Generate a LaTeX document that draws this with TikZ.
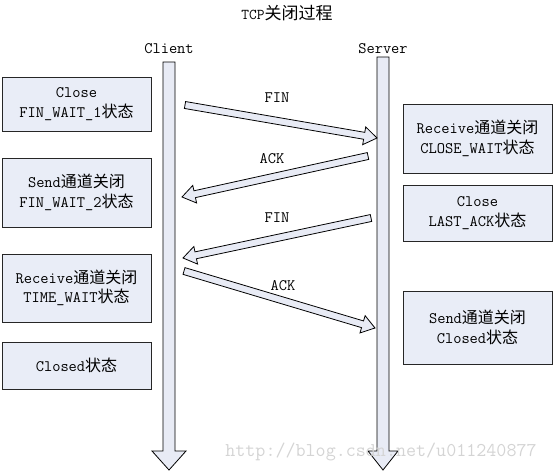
\documentclass[tikz,border=0pt]{standalone}
\usepackage{fontspec}
\newfontfamily\cjk{Noto Sans CJK SC}
\usetikzlibrary{calc,positioning}
\definecolor{arrowfill}{RGB}{232,235,245}
\definecolor{boxfill}{RGB}{233,237,247}
\definecolor{markgray}{RGB}{212,212,212}
\newcommand{\zh}[1]{{\cjk #1}}
% hollow block arrow: from, to, shaft half width, head half width, head length
\newcommand{\blockarrow}[5]{%
  \coordinate (ba-h) at ($(#2)!#5!(#1)$);
  \draw[blockline] ($(#1)!#3!90:(#2)$) -- ($(ba-h)!#3!90:(#2)$) -- ($(ba-h)!#4!90:(#2)$) -- (#2)
    -- ($(ba-h)!#4!-90:(#2)$) -- ($(ba-h)!#3!-90:(#2)$) -- ($(#1)!#3!-90:(#2)$) -- cycle;
}
\begin{document}
\begin{tikzpicture}[x=1pt, y=-1pt,
    statebox/.style={rectangle, draw=black!85, fill=boxfill, line width=0.8pt, minimum width=149pt, inner sep=0pt, align=center, font=\ttfamily\fontsize{16}{19.5}\selectfont},
    msglabel/.style={font=\ttfamily\fontsize{16}{18}\selectfont, inner sep=0pt},
    blockline/.style={draw=black, fill=arrowfill, line width=0.8pt, line join=miter}]
    \useasboundingbox (0,0) rectangle (554,472);

    % Title
    \node[font=\ttfamily\fontsize{15}{18}\selectfont] (title) at (287,13) {TCP{\fontsize{17}{18}\selectfont\zh{关闭过程}}};

    % Lifelines
    \node[msglabel] (client) at (169,49) {Client};
    \node[msglabel] (server) at (383,49) {Server};
    \coordinate (client-top) at (169,62);
    \coordinate (client-end) at (169,470);
    \coordinate (server-top) at (383,57);
    \coordinate (server-end) at (383,470);
    \blockarrow{client-top}{client-end}{6pt}{17pt}{19pt}
    \blockarrow{server-top}{server-end}{6pt}{15pt}{19pt}

    % Client states
    \node[statebox, minimum height=54pt] (fin-wait-1) at (76.5,104) {Close\\FIN\_WAIT\_1\zh{状态}};
    \node[statebox, minimum height=69pt] (fin-wait-2) at (76.5,192.5) {Send\zh{通道关闭}\\FIN\_WAIT\_2\zh{状态}};
    \node[statebox, minimum height=68pt] (time-wait) at (76.5,288) {Receive\zh{通道关闭}\\TIME\_WAIT\zh{状态}};
    \node[statebox, minimum height=47pt] (client-closed) at (76.5,365.5) {Closed\zh{状态}};

    % Server states
    \node[statebox, minimum height=69pt] (close-wait) at (477.5,138.5) {Receive\zh{通道关闭}\\CLOSE\_WAIT\zh{状态}};
    \node[statebox, minimum height=56pt] (last-ack) at (477.5,213) {Close\\LAST\_ACK\zh{状态}};
    \node[statebox, minimum height=73pt] (server-closed) at (477.5,327.5) {Send\zh{通道关闭}\\Closed\zh{状态}};

    % Messages
    \coordinate (fin1-s) at (185,105);
    \coordinate (fin1-e) at (377,138);
    \coordinate (ack1-s) at (368,156);
    \coordinate (ack1-e) at (182,197);
    \coordinate (fin2-s) at (371,218);
    \coordinate (fin2-e) at (183,258);
    \coordinate (ack2-s) at (184,271);
    \coordinate (ack2-e) at (375,328);
    \blockarrow{fin1-s}{fin1-e}{3.5pt}{9pt}{13pt}
    \blockarrow{ack1-s}{ack1-e}{3.5pt}{9pt}{13pt}
    \blockarrow{fin2-s}{fin2-e}{3.5pt}{9pt}{13pt}
    \blockarrow{ack2-s}{ack2-e}{3.5pt}{9pt}{13pt}
    \node[msglabel] (fin1) at (277,98) {FIN};
    \node[msglabel] (ack1) at (272,159) {ACK};
    \node[msglabel] (fin2) at (277,218) {FIN};
    \node[msglabel] (ack2) at (283,286) {ACK};

    % Watermark
    \node[font=\ttfamily\fontsize{19.5}{22}\selectfont, text=markgray, inner sep=0pt] (mark) at (381,452) {http://blog.csdn.net/u011240877};
\end{tikzpicture}
\end{document}
